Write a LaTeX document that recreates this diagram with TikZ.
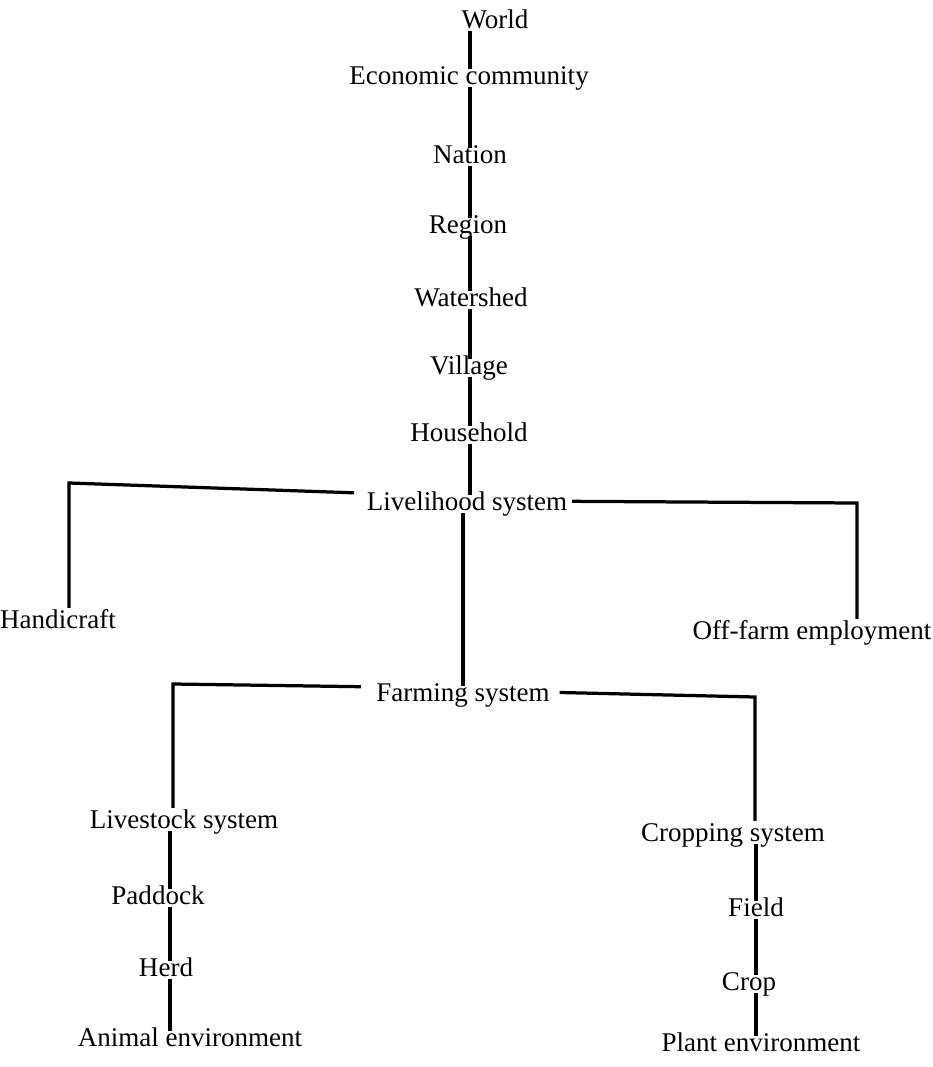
\documentclass[tikz,border=0pt]{standalone}
\usepackage{fontspec}
\setmainfont{Liberation Serif}
\begin{document}
\begin{tikzpicture}[x=0.37pt,y=-0.37pt,
    lvl/.style={inner sep=0.5pt,text height=7pt,text depth=2pt},
    link/.style={line width=1.2pt},
    rung/.style={link,shorten <=-2pt,shorten >=-2pt}]
    \useasboundingbox (0,0) rectangle (932,1067);
    % scale levels, top to bottom
    \node[lvl] at (495,22) (world) {World};
    \node[lvl] at (469,78) (econ) {Economic community};
    \node[lvl] at (470,157) (nation) {Nation};
    \node[lvl] at (468,227) (region) {Region};
    \node[lvl] at (471,300) (water) {Watershed};
    \node[lvl] at (469,368) (village) {Village};
    \node[lvl] at (469,435) (house) {Household};
    \node[lvl] at (467,504) (liveli) {Livelihood system};
    \node[lvl] at (58,622) (handi) {Handicraft};
    \node[lvl] at (812,633) (offfarm) {Off-farm employment};
    \node[lvl] at (463,695) (farm) {Farming system};
    % livestock branch
    \node[lvl] at (184,822) (stock) {Livestock system};
    \node[lvl] at (158,898) (paddock) {Paddock};
    \node[lvl] at (166,970) (herd) {Herd};
    \node[lvl] at (190,1040) (animal) {Animal environment};
    % cropping branch
    \node[lvl] at (733,835) (cropsys) {Cropping system};
    \node[lvl] at (756,910) (field) {Field};
    \node[lvl] at (749,984) (crop) {Crop};
    \node[lvl] at (761,1045) (plant) {Plant environment};
    % spines and corners
    \coordinate (spine) at (470,0);
    \coordinate (stockx) at (170,0);
    \coordinate (cropx) at (756,0);
    \coordinate (lvL) at (69,483);
    \coordinate (lvR) at (857,503);
    \coordinate (fmL) at (173,684);
    \coordinate (fmR) at (755,697);
    \foreach \a/\b in {world/econ,econ/nation,nation/region,region/water,water/village,village/house,house/liveli}
        \draw[rung] (\a.south -| spine) -- (\b.north -| spine);
    \draw[rung] (liveli.south -| farm.north) -- (farm.north);
    \foreach \a/\b in {stock/paddock,paddock/herd,herd/animal}
        \draw[rung] (\a.south -| stockx) -- (\b.north -| stockx);
    \foreach \a/\b in {cropsys/field,field/crop,crop/plant}
        \draw[rung] (\a.south -| cropx) -- (\b.north -| cropx);
    % elbows
    \draw[link,shorten <=4pt] ([yshift=4pt]liveli.west) -- (lvL) -- (lvL |- handi.north);
    \draw[link,shorten <=1pt] ([yshift=1pt]liveli.east) -- (lvR) -- (lvR |- offfarm.north);
    \draw[link,shorten <=5pt] ([yshift=3pt]farm.west) -- (fmL) -- (fmL |- stock.north);
    \draw[link,shorten <=3pt] ([yshift=1pt]farm.east) -- (fmR) -- (fmR |- cropsys.north);
\end{tikzpicture}
\end{document}
